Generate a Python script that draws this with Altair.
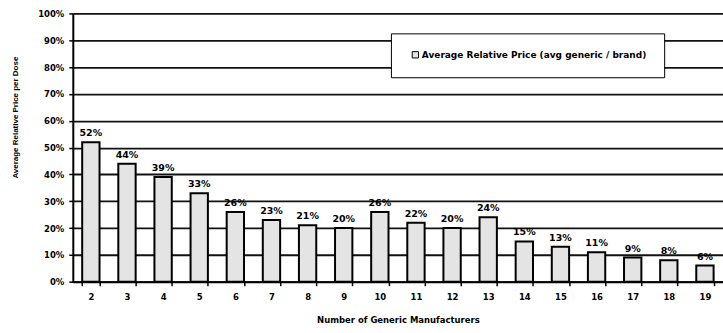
import altair as alt
import pandas as pd

manufacturers = [str(i) for i in range(2, 20)]
avg_relative_price = [0.52, 0.44, 0.39, 0.33, 0.26, 0.23, 0.21, 0.20, 0.26,
                      0.22, 0.20, 0.24, 0.15, 0.13, 0.11, 0.09, 0.08, 0.06]
series_name = "Average Relative Price (avg generic / brand)"
y_ticks = [0.0, 0.1, 0.2, 0.3, 0.4, 0.5, 0.6, 0.7, 0.8, 0.9, 1.0]

df = pd.DataFrame({
    "n": manufacturers,
    "price": avg_relative_price,
    "series": [series_name] * len(manufacturers),
})

FONT = "DejaVu Sans"

x_enc = alt.X("n:N", sort=manufacturers,
              scale=alt.Scale(paddingInner=0.52, paddingOuter=0.26),
              axis=alt.Axis(title="Number of Generic Manufacturers", labelAngle=0,
                            tickBand="extent", labelPadding=7, titlePadding=14,
                            titleFontSize=8.5, titleFontWeight="bold",
                            domainColor="black", tickColor="black", tickSize=4,
                            domainWidth=2, tickWidth=1.5))
y_enc = alt.Y("price:Q", scale=alt.Scale(domain=[0, 1]),
              axis=alt.Axis(title="Average Relative Price per Dose", format=".0%",
                            values=y_ticks, labelOverlap=False,
                            grid=True, gridColor="#111111", gridWidth=1.8,
                            domainColor="black", domainWidth=2,
                            tickColor="black", tickSize=4, tickWidth=1.5,
                            labelPadding=5, titleFont="Liberation Sans",
                            titleFontWeight="bold",
                            titleFontSize=8, titleX=-53, titleY=104))

base = alt.Chart(df)

bars = base.mark_bar(stroke="black", strokeWidth=2).encode(
    x=x_enc,
    y=y_enc,
    color=alt.Color("series:N", scale=alt.Scale(range=["#e4e4e4"]),
                    legend=alt.Legend(title=None, orient="none", legendX=319, legendY=20,
                                      fillColor="white", strokeColor="black",
                                      padding=17, symbolType="square",
                                      symbolStrokeColor="black", symbolStrokeWidth=1,
                                      symbolSize=40, symbolOffset=3,
                                      labelFont=FONT, labelFontSize=9,
                                      labelFontWeight="bold", labelColor="black",
                                      labelOffset=2, labelLimit=400)),
)

labels = base.mark_text(dy=-9, font=FONT, fontSize=9.5, fontWeight="bold", color="black").encode(
    x=x_enc,
    y=y_enc,
    text=alt.Text("price:Q", format=".0%"),
)

chart = (bars + labels).properties(
    width=652, height=269,
    padding={"left": 73, "top": 13, "right": 0, "bottom": 51},
    autosize=alt.AutoSizeParams(type="none"),
).configure_axis(
    labelFont=FONT, labelFontSize=8.5, labelFontWeight="bold", labelColor="black",
    titleFont=FONT, titleFontWeight="bold", titleColor="black",
).configure_view(stroke=None)

chart.save("out.html", embed_options={"renderer": "svg", "actions": False})
